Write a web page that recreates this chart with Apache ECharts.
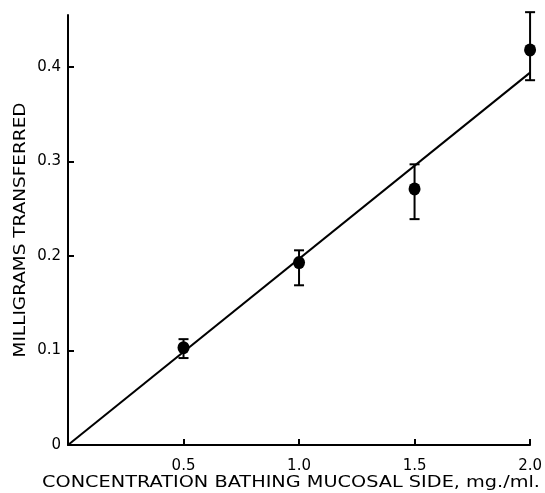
<!DOCTYPE html>
<html><head><meta charset="utf-8">
<script src="https://cdn.jsdelivr.net/npm/echarts@6/dist/echarts.min.js"></script>
<style>html,body{margin:0;padding:0;background:#fff}#c{width:545px;height:493px}</style>
</head><body><div id="c"></div>
<script>
const concentrations = [0.5, 1.0, 1.5, 2.0];
const meanTransferred = [0.103, 0.193, 0.271, 0.418];
const errLow = [0.092, 0.169, 0.239, 0.386];
const errHigh = [0.112, 0.206, 0.297, 0.458];
const fitLine = [[0, 0], [2.0, 0.394]];
const xTicks = [0.5, 1.0, 1.5, 2.0];
const yTicks = [0, 0.1, 0.2, 0.3, 0.4];
const xTitle = 'CONCENTRATION BATHING MUCOSAL SIDE, mg./ml.';
const yTitle = 'MILLIGRAMS TRANSFERRED';

const font = '"DejaVu Sans", sans-serif';
function textWidth(str, size) {
  const cv = document.createElement('canvas').getContext('2d');
  cv.font = size + 'px ' + font;
  return cv.measureText(str).width;
}
const titleSize = 15;
const xScale = 498 / textWidth(xTitle, titleSize);
const yScale = 255 / textWidth(yTitle, titleSize);

const chart = echarts.init(document.getElementById('c'));
const errData = concentrations.map((c, i) => [c, errLow[i], errHigh[i]]);
chart.setOption({
  animation: false,
  grid: {left: 68, right: 11, top: 15, bottom: 48},
  graphic: [
    {type: 'text', x: 291, y: 483, scaleX: xScale, style: {text: xTitle, font: titleSize + 'px ' + font, fill: '#000', textAlign: 'center', textVerticalAlign: 'middle'}},
    {type: 'text', x: 21, y: 230, rotation: Math.PI / 2, scaleX: yScale, style: {text: yTitle, font: titleSize + 'px ' + font, fill: '#000', textAlign: 'center', textVerticalAlign: 'middle'}}
  ],
  xAxis: {
    type: 'value', min: 0, max: 2.0,
    axisLine: {lineStyle: {color: '#000', width: 2}},
    axisTick: {inside: true, length: 6, lineStyle: {color: '#000', width: 2}, customValues: xTicks},
    axisLabel: {customValues: xTicks, formatter: v => v.toFixed(1), color: '#000', fontSize: 15, fontFamily: 'DejaVu Sans', margin: 14},
    splitLine: {show: false}
  },
  yAxis: {
    type: 'value', min: 0, max: 0.455,
    axisLine: {lineStyle: {color: '#000', width: 2}},
    axisTick: {inside: true, length: 6, lineStyle: {color: '#000', width: 2}, customValues: yTicks},
    axisLabel: {customValues: yTicks, formatter: v => v === 0 ? '0' : v.toFixed(1), color: '#000', fontSize: 15, fontFamily: 'DejaVu Sans', margin: 7},
    splitLine: {show: false}
  },
  series: [
    {type: 'line', data: fitLine, symbol: 'none', lineStyle: {color: '#000', width: 2}, z: 2},
    {
      type: 'custom', data: errData, z: 3,
      renderItem: function (params, api) {
        const x = api.value(0);
        const lo = api.coord([x, api.value(1)]);
        const hi = api.coord([x, api.value(2)]);
        const w = 5;
        const st = {stroke: '#000', lineWidth: 2};
        return {type: 'group', children: [
          {type: 'line', shape: {x1: lo[0], y1: lo[1], x2: hi[0], y2: hi[1]}, style: st},
          {type: 'line', shape: {x1: lo[0] - w, y1: lo[1], x2: lo[0] + w, y2: lo[1]}, style: st},
          {type: 'line', shape: {x1: hi[0] - w, y1: hi[1], x2: hi[0] + w, y2: hi[1]}, style: st}
        ]};
      }
    },
    {type: 'scatter', data: concentrations.map((c, i) => [c, meanTransferred[i]]), symbol: 'circle', symbolSize: [12, 13], itemStyle: {color: '#000', opacity: 1}, z: 4}
  ]
});
</script></body></html>
